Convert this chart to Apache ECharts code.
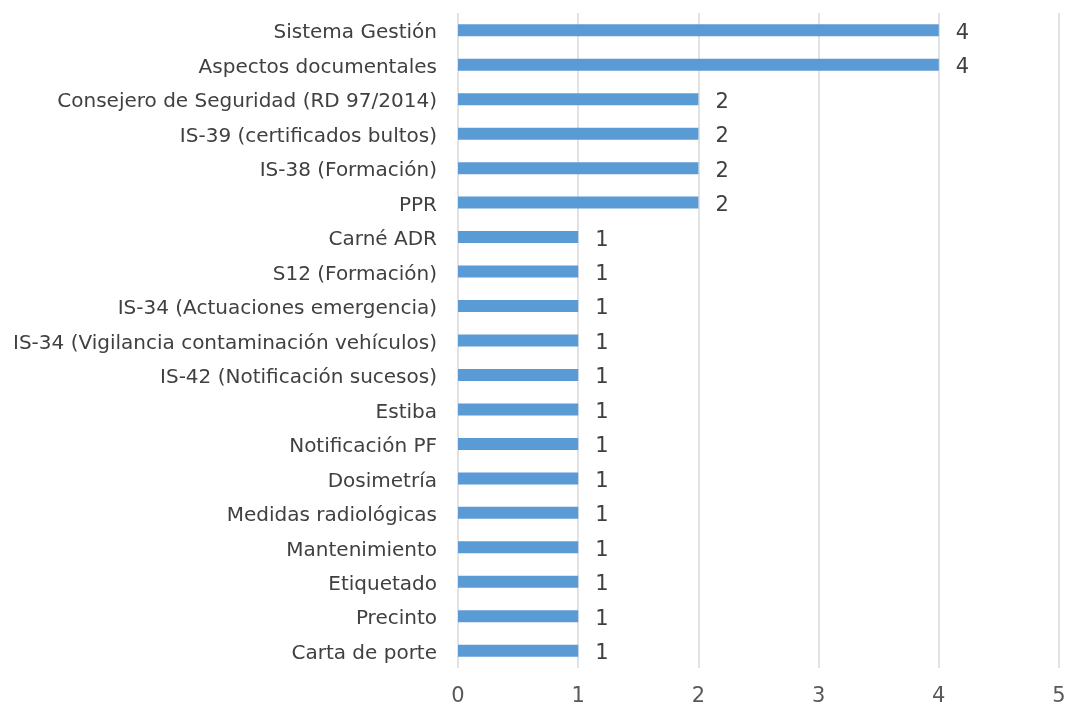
<!DOCTYPE html>
<html><head><meta charset="utf-8">
<script src="https://cdn.jsdelivr.net/npm/echarts@6/dist/echarts.min.js"></script>
<style>html,body{margin:0;padding:0;background:#fff}#c{width:1067px;height:707px}</style>
</head><body><div id="c"></div>
<script>
const categories = ["Sistema Gestión","Aspectos documentales","Consejero de Seguridad (RD 97/2014)","IS-39 (certificados bultos)","IS-38 (Formación)","PPR","Carné ADR","S12 (Formación)","IS-34 (Actuaciones emergencia)","IS-34 (Vigilancia contaminación vehículos)","IS-42 (Notificación sucesos)","Estiba","Notificación PF","Dosimetría","Medidas radiológicas","Mantenimiento","Etiquetado","Precinto","Carta de porte"];
const values = [4,4,2,2,2,2,1,1,1,1,1,1,1,1,1,1,1,1,1];
const xTicks = [0,1,2,3,4,5];
const chart = echarts.init(document.getElementById('c'));
const font = "DejaVu Sans";
chart.setOption({
  animation:false,
  grid:{left:458,right:8,top:13,bottom:39,containLabel:false,outerBoundsMode:'none'},
  xAxis:{type:'value',min:xTicks[0],max:xTicks[xTicks.length-1],interval:1,
    axisLine:{show:false},axisTick:{show:false},
    splitLine:{lineStyle:{color:'#d9d9d9',width:1.5}},
    axisLabel:{color:'#595959',fontSize:21,fontFamily:font,margin:18}},
  yAxis:{type:'category',inverse:true,data:categories,
    axisLine:{show:false},axisTick:{show:false},
    axisLabel:{margin:21,formatter:v=>'{a|'+v+'}',
      rich:{a:{color:'#404040',fontSize:20,fontFamily:font,padding:[6,0,0,0]}}}},
  series:[{type:'bar',data:values,barWidth:12,
    itemStyle:{color:'#5b9bd5'},
    label:{show:true,position:'right',distance:17,formatter:p=>'{a|'+p.value+'}',
      rich:{a:{color:'#404040',fontSize:21,fontFamily:font,padding:[6,0,0,0]}}}}]
});
</script></body></html>
